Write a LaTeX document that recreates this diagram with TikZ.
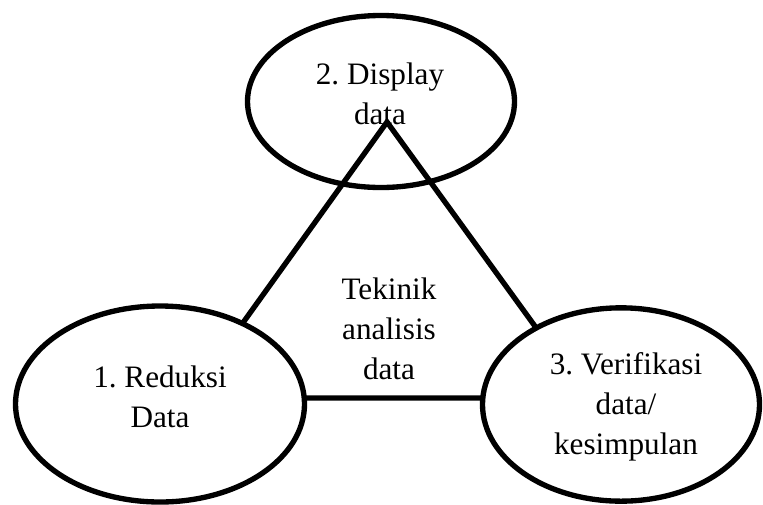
\documentclass[tikz,border=0pt]{standalone}
\usepackage{fontspec}
\setmainfont{Liberation Serif}
\usetikzlibrary{shapes.geometric}
\begin{document}
\frenchspacing
\begin{tikzpicture}[x=0.75pt,y=-0.75pt,
  oval/.style={ellipse,draw=black,line width=4pt,fill=white,inner sep=0pt},
  lbl/.style={align=center,inner sep=0pt,font=\fontsize{23.4}{30}\selectfont},
  side/.style={draw=black,line width=4pt,line join=miter}]
\useasboundingbox (0,0) rectangle (763,504);
% top ellipse
\node[oval,minimum width=200.25pt,minimum height=129pt] (e2) at (381,101.5) {};
\node[lbl] (t2) at (380,94) {2. Display\\data};
% triangle
\coordinate (A) at (189,398);
\coordinate (B) at (587,398);
\coordinate (C) at (387,122);
\draw[side] (A) -- (C) -- (B) -- cycle;
\node[lbl] (t0) at (389,328.5) {Tekinik\\analisis\\data};
% left ellipse
\node[oval,minimum width=216.75pt,minimum height=147pt] (e1) at (160,404) {};
\node[lbl] (t1) at (160,396.5) {1. Reduksi\\Data};
% right ellipse
\node[oval,minimum width=207.75pt,minimum height=145pt] (e3) at (621,404.5) {};
\node[lbl] (t3) at (626,407) {3. Verifikasi\\data/\\kesimpulan};
\end{tikzpicture}
\end{document}
